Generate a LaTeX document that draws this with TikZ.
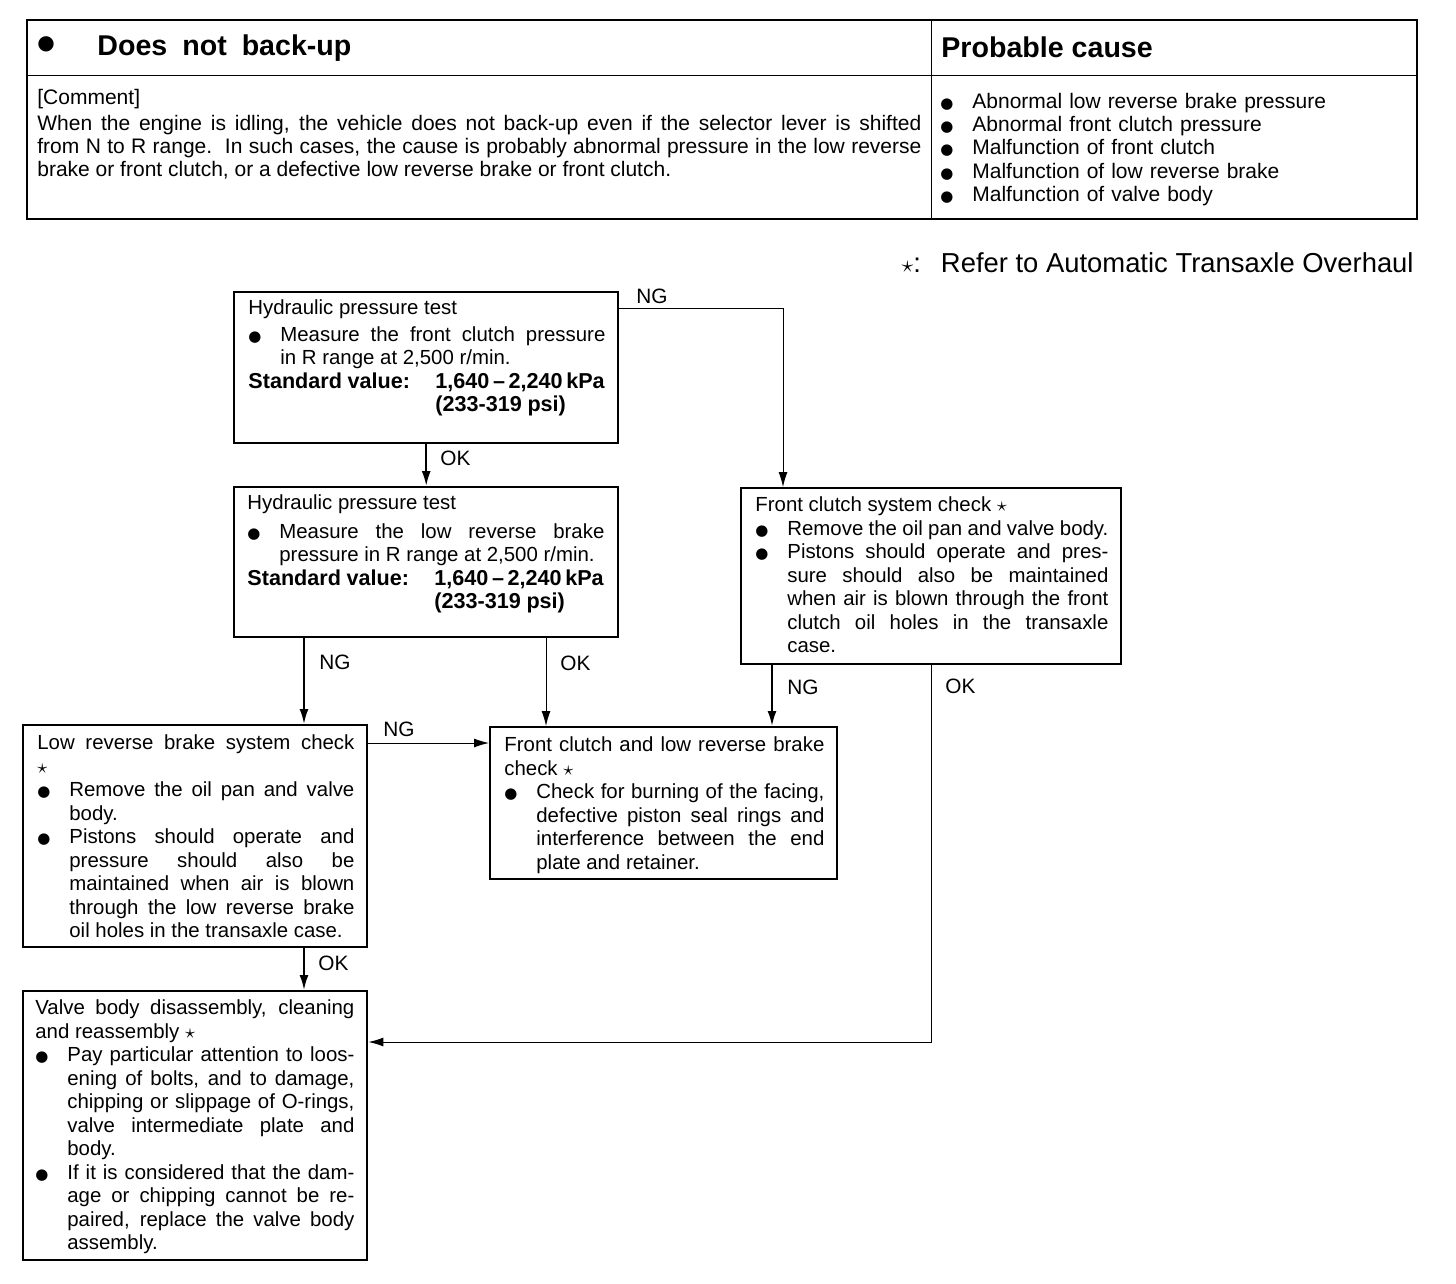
\documentclass[tikz,border=0pt]{standalone}
\usepackage{fontspec}
\setmainfont{Liberation Sans}
\newfontfamily\symfont{DejaVu Sans}
\usetikzlibrary{positioning,arrows.meta}

\newcommand{\dotmark}{{\symfont\fontsize{7.5}{7.5}\selectfont ●}}
\newcommand{\bitem}[2][16pt]{\par\noindent\hangindent=#1\hangafter=1\makebox[#1][l]{\strut\dotmark}#2\par}
\newcommand{\refmark}{$\star$}
\newcommand{\stdval}[2]{\par\noindent{\fontsize{10.8}{11.75}\selectfont\makebox[93.5pt][l]{\textbf{Standard value:}}\mbox{\textbf{#1}}\par\noindent\hspace*{93.5pt}\textbf{#2}\par}}
\newcommand{\boxfont}{\fontsize{10.2}{11.75}\selectfont\spaceskip=0.278em plus 0.5em minus 0.12em\relax}

\tikzset{
  box/.style={draw, line width=1.2pt, inner sep=0pt, anchor=north west},
  boxtext/.style={anchor=north west, inner sep=0pt, align=justify, font=\boxfont},
  lbl/.style={anchor=west, inner sep=0pt, font=\fontsize{10.4}{12}\selectfont},
  thickarr/.style={line width=1pt, -{Latex[length=7.5pt,width=4.5pt]}},
  thinarr/.style={line width=0.5pt, -{Latex[length=7.5pt,width=4.5pt]}},
  thinline/.style={line width=0.5pt}
}

\begin{document}
\begin{tikzpicture}[x=0.5pt,y=-0.5pt]
\useasboundingbox (0,0) rectangle (1456,1284);

% table
\draw[line width=1pt] (27,20) rectangle (1417,219);
\draw[thinline] (27,76) -- (1417,76);
\draw[thinline] (931,20) -- (931,219);
\node[inner sep=0pt] (titledot) at (46,44) {\symfont\fontsize{10}{10}\selectfont ●};
\node[anchor=west, inner sep=0pt, font=\fontsize{14.3}{16}\selectfont\bfseries] (title) at (97,48)
  {Does\hspace{7.5pt}not\hspace{7.5pt}back-up};
\node[anchor=west, inner sep=0pt, font=\fontsize{14.3}{16}\selectfont\bfseries] (causetitle) at (941,47)
  {Probable cause};
\node[anchor=north west, inner sep=0pt, text width=442pt, align=justify,
  font=\fontsize{10.5}{11.5}\selectfont] (comment) at (37,88)
  {\strut[Comment]\par\vspace{1.5pt}
   When the engine is idling, the vehicle does not back-up even if the selector lever is shifted\linebreak
   from N to R range.\ \ In such cases, the cause is probably abnormal pressure in the low reverse\linebreak
   brake or front clutch, or a defective low reverse brake or front clutch.\par};
\node[anchor=north west, inner sep=0pt, text width=230pt, align=left,
  font=\fontsize{10.5}{11.6}\selectfont] (causes) at (940,85)
  {\bitem[16pt]{Abnormal low reverse brake pressure}
   \bitem[16pt]{Abnormal front clutch pressure}
   \bitem[16pt]{Malfunction of front clutch}
   \bitem[16pt]{Malfunction of low reverse brake}
   \bitem[16pt]{Malfunction of valve body}};
\node[anchor=east, inner sep=0pt, font=\fontsize{13.7}{15}\selectfont] (refnote) at (1414,263)
  {{\large\refmark}:\hspace{10pt}Refer to Automatic Transaxle Overhaul};

% boxes
\node[box, minimum width=192pt, minimum height=75.5pt] (hpfront) at (233,291) {};
\node[box, minimum width=192pt, minimum height=75pt] (hplow) at (233,486) {};
\node[box, minimum width=190pt, minimum height=88pt] (fcsys) at (740,487) {};
\node[box, minimum width=172pt, minimum height=111pt] (lrsys) at (22,724) {};
\node[box, minimum width=173.5pt, minimum height=76pt] (fclr) at (489,726) {};
\node[box, minimum width=172pt, minimum height=134.5pt] (valve) at (22,990) {};

% box texts
\node[boxtext, text width=178.5pt] (hpfronttext) at (248,298)
  {\strut Hydraulic pressure test\par\vspace{1.5pt}
   \bitem{Measure the front clutch pressure\linebreak in R range at 2,500 r/min.}
   \stdval{1,640\,--\,2,240\,kPa}{(233-319 psi)}};
\node[boxtext, text width=178.5pt] (hplowtext) at (247,493)
  {\strut Hydraulic pressure test\par\vspace{2.5pt}
   \bitem{Measure the low reverse brake\linebreak pressure in R range at 2,500 r/min.}
   \stdval{1,640\,--\,2,240\,kPa}{(233-319 psi)}};
\node[boxtext, text width=176.5pt] (fcsystext) at (755,495)
  {\strut Front clutch system check \refmark
   \bitem{Remove the oil pan and valve body.}
   \bitem{Pistons should operate and pres-\linebreak sure should also be maintained\linebreak
     when air is blown through the front\linebreak clutch oil holes in the transaxle\linebreak case.}};
\node[boxtext, text width=158.5pt] (lrsystext) at (37,733)
  {\strut Low reverse brake system check\linebreak \refmark
   \bitem{Remove the oil pan and valve\linebreak body.}
   \bitem{Pistons should operate and\linebreak pressure should also be\linebreak
     maintained when air is blown\linebreak through the low reverse brake\linebreak
     oil holes in the transaxle case.}};
\node[boxtext, text width=160pt] (fclrtext) at (504,735)
  {\strut Front clutch and low reverse brake\linebreak check \refmark
   \bitem{Check for burning of the facing,\linebreak defective piston seal rings and\linebreak
     interference between the end\linebreak plate and retainer.}};
\node[boxtext, text width=159.5pt] (valvetext) at (35,998)
  {\strut Valve body disassembly, cleaning\linebreak and reassembly \refmark
   \bitem{Pay particular attention to loos-\linebreak ening of bolts, and to damage,\linebreak
     chipping or slippage of O-rings,\linebreak valve intermediate plate and\linebreak body.}
   \bitem{If it is considered that the dam-\linebreak age or chipping cannot be re-\linebreak
     paired, replace the valve body\linebreak assembly.}};

% connectors
\draw[thickarr] (hpfront.south) -- (hplow.north);
\node[lbl] (okfront) at (440,458) {OK};
\draw[thinarr] (hpfront.east |- 0,308) -| (fcsys.north -| 783,0);
\node[lbl] (ngfront) at (636,296) {NG};
\draw[thickarr] (hplow.south -| 304,0) -- (lrsys.north -| 304,0);
\node[lbl] (nglow) at (319,662) {NG};
\draw[thinarr] (hplow.south -| 546,0) -- (fclr.north -| 546,0);
\node[lbl] (oklow) at (560,663) {OK};
\draw[thickarr] (fcsys.south -| 772,0) -- (fclr.north -| 772,0);
\node[lbl] (ngfcsys) at (787,687) {NG};
\draw[thinarr] (fcsys.south) |- (valve.east |- 0,1042);
\node[lbl] (okfcsys) at (945,686) {OK};
\draw[thinarr] (lrsys.east |- 0,743) -- (fclr.west |- 0,743);
\node[lbl] (nglrsys) at (383,729) {NG};
\draw[thickarr] (lrsys.south -| 304,0) -- (valve.north -| 304,0);
\node[lbl] (oklrsys) at (318,963) {OK};
\end{tikzpicture}
\end{document}
